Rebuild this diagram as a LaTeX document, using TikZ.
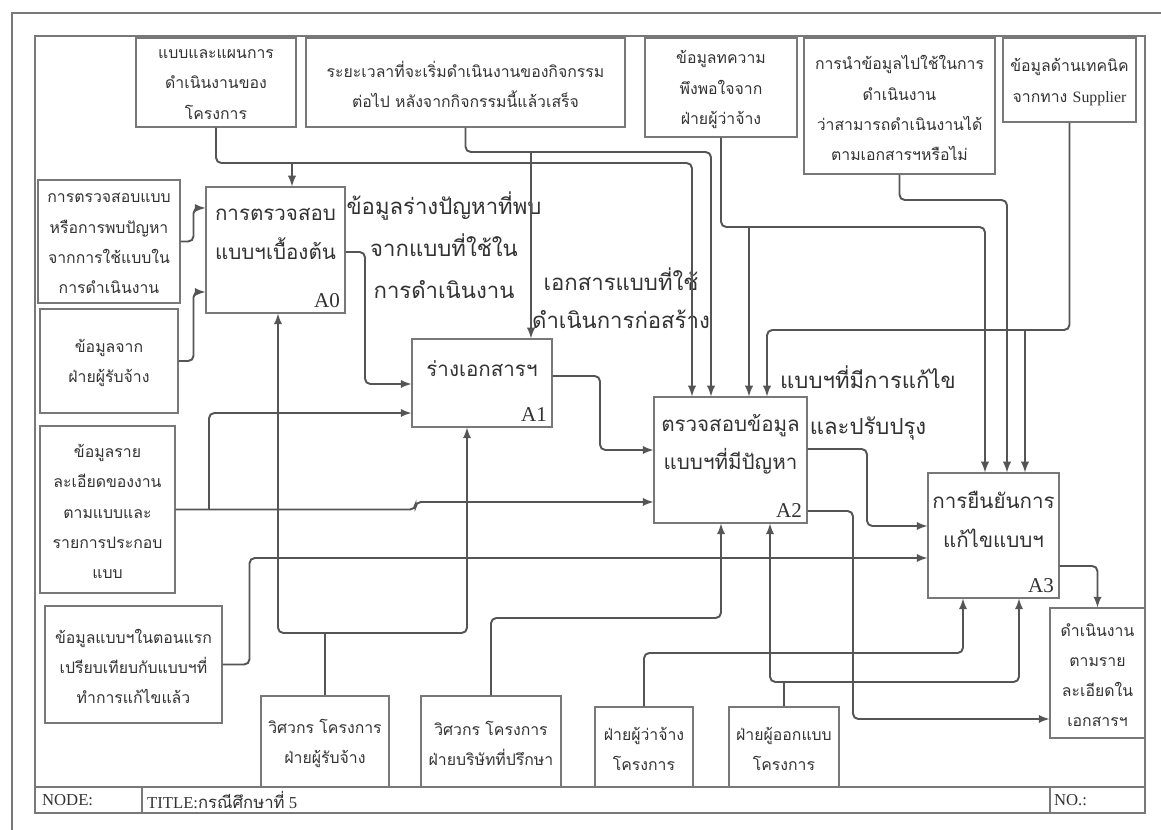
\documentclass[tikz,border=0pt]{standalone}
\usepackage{fontspec}
\setmainfont{Liberation Serif}
\newfontfamily\thaifont[Script=Thai]{Loma}
\usetikzlibrary{fit,calc}

\definecolor{linegray}{RGB}{120,120,120}
\definecolor{arrowgray}{RGB}{85,85,85}
\definecolor{inkgray}{RGB}{50,50,50}

\tikzset{
  box/.style={draw=linegray, line width=0.6pt, inner sep=0pt},
  boxtext/.style={align=center, text=inkgray, yshift=-1.2pt,
    font=\thaifont\fontsize{9}{17.2}\selectfont},
  proctext/.style={align=center, text=inkgray, font=\thaifont\fontsize{11.7}{22}\selectfont},
  bigtext/.style={align=center, text=inkgray, font=\thaifont\fontsize{12.6}{24}\selectfont},
  boxid/.style={anchor=south east, inner sep=3pt, text=inkgray, font=\fontsize{12}{14}\selectfont},
  titletext/.style={anchor=west, inner sep=1pt, text=inkgray, font=\fontsize{9.5}{11}\selectfont},
  frame/.style={draw=linegray, line width=0.6pt},
  arr/.style={draw=arrowgray, line width=1.1pt, rounded corners=3pt, -latex},
  wire/.style={draw=arrowgray, line width=1.1pt, rounded corners=3pt},
}

\begin{document}
\begin{tikzpicture}[x=0.02cm, y=-0.02cm]
  \useasboundingbox (0,0) rectangle (1161,830);

  % Sheet frames and title strip.
  \draw[frame] (12,830) -- (12,13) -- (1161,13);
  \draw[frame] (35,36) rectangle (1145,813);
  \draw[frame] (35,787) -- (1145,787);
  \draw[frame] (142,787) -- (142,813);
  \draw[frame] (1050,787) -- (1050,813);
  \node[titletext] (nodelbl) at (40,800) {NODE:};
  \node[titletext] (titlelbl) at (145,800) {TITLE:{\thaifont กรณีศึกษาที่} 5};
  \node[titletext] (nolbl) at (1052,800) {NO.:};

  % Controls along the top.
  \node[box, fit={(136,38) (296,127)},
    label={[boxtext]center:{แบบและแผนการ\\ดำเนินงานของ\\โครงการ}}] (plan) {};
  \node[box, fit={(306,38) (625,127)},
    label={[boxtext]center:{ระยะเวลาที่จะเริ่มดำเนินงานของกิจกรรม\\ต่อไป หลังจากกิจกรรมนี้แล้วเสร็จ}}] (timing) {};
  \node[box, fit={(645,38) (797,137)},
    label={[boxtext]center:{ข้อมูลทความ\\พึงพอใจจาก\\ฝ่ายผู้ว่าจ้าง}}] (owner) {};
  \node[box, fit={(804,38) (995,174)},
    label={[boxtext]center:{การนำข้อมูลไปใช้ในการ\\ดำเนินงาน\\ว่าสามารถดำเนินงานได้\\ตามเอกสารฯหรือไม่}}] (usage) {};
  \node[box, fit={(1003,38) (1136,122)},
    label={[boxtext]center:{ข้อมูลด้านเทคนิค\\จากทาง {\rmfamily Supplier}}}] (supplier) {};

  % Inputs on the left.
  \node[box, fit={(38,180) (180,303)},
    label={[boxtext]center:{การตรวจสอบแบบ\\หรือการพบปัญหา\\จากการใช้แบบใน\\การดำเนินงาน}}] (check) {};
  \node[box, fit={(40,309) (178,413)},
    label={[boxtext]center:{ข้อมูลจาก\\ฝ่ายผู้รับจ้าง}}] (contractor) {};
  \node[box, fit={(40,426) (175,593)},
    label={[boxtext]center:{ข้อมูลราย\\ละเอียดของงาน\\ตามแบบและ\\รายการประกอบ\\แบบ}}] (details) {};
  \node[box, fit={(45,606) (222,723)},
    label={[boxtext]center:{ข้อมูลแบบฯในตอนแรก\\เปรียบเทียบกับแบบฯที่\\ทำการแก้ไขแล้ว}}] (original) {};

  % Mechanisms along the bottom.
  \node[box, fit={(261,696) (389,787)},
    label={[boxtext]center:{วิศวกร โครงการ\\ฝ่ายผู้รับจ้าง}}] (engcon) {};
  \node[box, fit={(421,696) (561,787)},
    label={[boxtext]center:{วิศวกร โครงการ\\ฝ่ายบริษัทที่ปรึกษา}}] (engcons) {};
  \node[box, fit={(595,707) (693,787)},
    label={[boxtext]center:{ฝ่ายผู้ว่าจ้าง\\โครงการ}}] (client) {};
  \node[box, fit={(729,707) (839,787)},
    label={[boxtext]center:{ฝ่ายผู้ออกแบบ\\โครงการ}}] (designer) {};

  % Output.
  \node[box, fit={(1050,608) (1145,738)},
    label={[boxtext]center:{ดำเนินงาน\\ตามราย\\ละเอียดใน\\เอกสารฯ}}] (result) {};

  % Activities.
  \node[box, fit={(206,187) (345,313)}] (A0) {};
  \node[box, fit={(412,339) (552,427)}] (A1) {};
  \node[box, fit={(654,397) (807,523)}] (A2) {};
  \node[box, fit={(928,473) (1059,598)}] (A3) {};
  \node[proctext] (A0txt) at ([yshift=9pt]A0.center) {การตรวจสอบ\\แบบฯเบื้องต้น};
  \node[proctext] (A1txt) at ([yshift=8pt]A1.center) {ร่างเอกสารฯ};
  \node[proctext] (A2txt) at ([yshift=9pt]A2.center) {ตรวจสอบข้อมูล\\แบบฯที่มีปัญหา};
  \node[proctext] (A3txt) at ([yshift=9pt]A3.center) {การยืนยันการ\\แก้ไขแบบฯ};
  \node[boxid] (A0id) at (A0.south east) {A0};
  \node[boxid] (A1id) at (A1.south east) {A1};
  \node[boxid] (A2id) at (A2.south east) {A2};
  \node[boxid] (A3id) at (A3.south east) {A3};

  % Arrow labels.
  \node[bigtext] (draftlbl) at (444,245) {ข้อมูลร่างปัญหาที่พบ\\จากแบบที่ใช้ใน\\การดำเนินงาน};
  \node[bigtext, font=\thaifont\fontsize{12.6}{21.5}\selectfont] (doclbl) at (621,298) {เอกสารแบบที่ใช้\\ดำเนินการก่อสร้าง};
  \node[bigtext, font=\thaifont\fontsize{12.6}{26.5}\selectfont] (revlbl) at (868,403) {แบบฯที่มีการแก้ไข\\และปรับปรุง};

  % Junctions.
  \coordinate (jplan) at (292,163);
  \coordinate (jtime) at (531,152);
  \coordinate (jowner) at (749,227);
  \coordinate (jsupp) at (1025,330);
  \coordinate (jdet) at (209,509);
  \coordinate (jeng) at (325,633);
  \coordinate (jdes) at (784,682);

  % Controls.
  \draw[arr] (plan.south) -- (plan.south |- jplan) -| (A2.north -| 692,0);
  \draw[arr] (jplan) -- (jplan |- A0.north);
  \draw[arr] (timing.south) -- (timing.south |- jtime) -| (A2.north -| 711,0);
  \draw[arr] (jtime) -- (jtime |- A1.north);
  \draw[arr] (owner.south) -- (owner.south |- jowner) -| (A3.north -| 985,0);
  \draw[arr] (jowner) -- (jowner |- A2.north);
  \draw[arr] (usage.south) -- (usage.south |- 0,200) -| (A3.north -| 1007,0);
  \draw[arr] (supplier.south) -- (supplier.south |- jsupp) -| (A2.north -| 767,0);
  \draw[arr] (jsupp) -- (jsupp |- A3.north);

  % Inputs.
  \draw[arr] (check.east) -- ++(13,0) |- (A0.west |- 0,208);
  \draw[arr] (contractor.east) -- ++(15,0) |- (A0.west |- 0,292);
  \draw[arr] (details.east) -- ++(240,0) |- (A2.west |- 0,502);
  \draw[arr] (jdet) |- (A1.west |- 0,413);
  \draw[arr] (original.east) -- ++(27,0) |- (A3.west |- 0,558);

  % Outputs.
  \draw[arr] (A0.east |- 0,252) -- (365,252) |- (A1.west |- 0,384);
  \draw[arr] (A1.east |- 0,376) -- (600,376) |- (A2.west |- 0,450);
  \draw[arr] (A2.east |- 0,449) -- (867,449) |- (A3.west |- 0,526);
  \draw[arr] (A2.east |- 0,511) -- (853,511) |- (result.west |- 0,719);
  \draw[arr] (A3.east |- 0,566) -| (result.north);

  % Mechanisms.
  \draw[wire] (engcon.north) -- (jeng);
  \draw[arr] (jeng) -| (A0.south -| 278,0);
  \draw[arr] (jeng) -| (A1.south -| 467,0);
  \draw[arr] (engcons.north) -- (engcons.north |- 0,618) -| (A2.south -| 721,0);
  \draw[arr] (client.north) -- (client.north |- 0,653) -| (A3.south -| 963,0);
  \draw[wire] (designer.north) -- (jdes);
  \draw[arr] (jdes) -| (A2.south -| 770,0);
  \draw[arr] (jdes) -| (A3.south -| 1019,0);
\end{tikzpicture}
\end{document}
